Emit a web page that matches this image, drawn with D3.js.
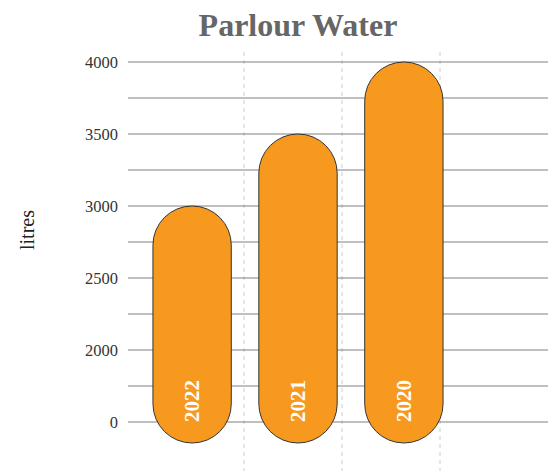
<!DOCTYPE html>
<html>
<head>
<meta charset="utf-8">
<script src="https://cdn.jsdelivr.net/npm/d3@7"></script>
<style>
  body { margin: 0; background: #fff; }
  svg text { font-family: "Liberation Serif", "DejaVu Serif", serif; }
</style>
</head>
<body>
<div id="chart"></div>
<script>
const years = ['2022', '2021', '2020'];
const litres = [3000, 3500, 4000];
const tickValues = [1500, 2000, 2500, 3000, 3500, 4000];
const tickLabels = ['0', '2000', '2500', '3000', '3500', '4000'];

const width = 548;
const height = 471;

const svg = d3.select('#chart')
    .append('svg')
    .attr('width', width)
    .attr('height', height);

const x = d3.scaleBand()
    .domain(years)
    .range([100, 496])
    .paddingInner(0.26)
    .paddingOuter(0.5);

const y = d3.scaleLinear()
    .domain([1500, 4000])
    .range([422, 62]);

// vertical dashed grid
const xg = d3.scaleLinear().domain([0, 4]).range([146, 538]);
svg.append('g')
    .selectAll('line')
    .data([1, 2, 3])
    .enter().append('line')
    .attr('x1', d => xg(d))
    .attr('x2', d => xg(d))
    .attr('y1', 52)
    .attr('y2', height)
    .attr('stroke', '#ccc')
    .attr('stroke-dasharray', '4,4');

// horizontal grid
svg.append('g')
    .selectAll('line')
    .data(d3.range(1500, 4001, 250))
    .enter().append('line')
    .attr('x1', 128)
    .attr('x2', width)
    .attr('y1', d => y(d))
    .attr('y2', d => y(d))
    .attr('stroke', '#808080')
    .attr('stroke-width', 1.2);

// y axis labels
const yAxis = svg.append('g')
    .attr('transform', 'translate(128,0)')
    .call(d3.axisLeft(y)
        .tickValues(tickValues)
        .tickFormat((d, i) => tickLabels[i])
        .tickSize(0)
        .tickPadding(10));
yAxis.select('.domain').remove();
yAxis.selectAll('text')
    .attr('font-size', 16.5)
    .attr('fill', '#333')
    .style('font-family', '"Liberation Serif", serif');

// bars
const capR = x.bandwidth() / 2;
svg.append('g')
    .selectAll('rect')
    .data(years)
    .enter().append('rect')
    .attr('x', d => x(d))
    .attr('width', x.bandwidth())
    .attr('y', (d, i) => y(litres[i]))
    .attr('height', (d, i) => y(1500) - y(litres[i]) + 21)
    .attr('rx', capR)
    .attr('ry', capR)
    .attr('fill', '#f7991f')
    .attr('stroke', '#333')
    .attr('stroke-width', 1);

// bar labels
svg.append('g')
    .selectAll('text')
    .data(years)
    .enter().append('text')
    .attr('transform', d => `translate(${x(d) + x.bandwidth() / 2 + 7},${y(1500)}) rotate(-90)`)
    .attr('font-size', 21)
    .attr('font-weight', 'bold')
    .attr('fill', '#fff')
    .text(d => d);

// title
svg.append('text')
    .attr('x', 298)
    .attr('y', 36)
    .attr('text-anchor', 'middle')
    .attr('font-size', 32)
    .attr('font-weight', 'bold')
    .attr('fill', '#666')
    .text('Parlour Water');

// y label
svg.append('text')
    .attr('transform', 'translate(34,230) rotate(-90)')
    .attr('text-anchor', 'middle')
    .attr('font-size', 20)
    .attr('fill', '#222')
    .text('litres');
</script>
</body>
</html>
